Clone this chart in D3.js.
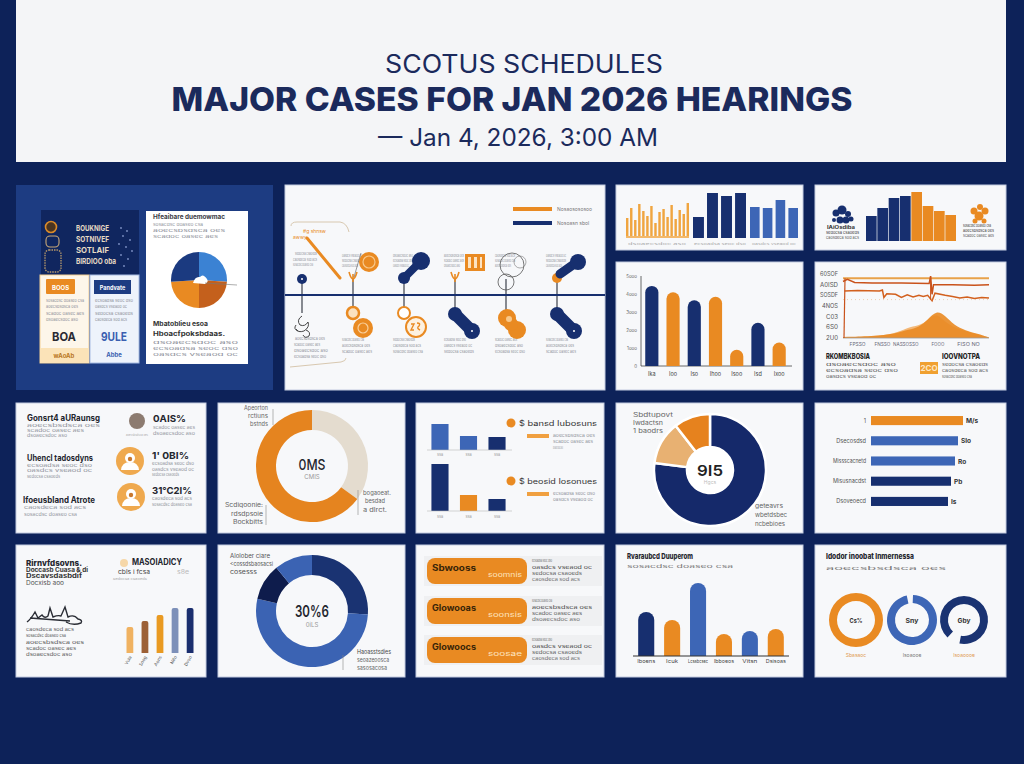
<!DOCTYPE html>
<html><head><meta charset="utf-8">
<script src="https://cdn.jsdelivr.net/npm/d3@7/dist/d3.min.js"></script>
<style>
html,body{margin:0;padding:0;background:#0d2259;}
svg{display:block;font-family:Inter,"Open Sans","DejaVu Sans",sans-serif;}
</style></head><body>
<svg id="chart" width="1024" height="764"></svg>
<script>
// ===================== DATA =====================
const titleTop = "SCOTUS SCHEDULES";
const titleMain = "MAJOR CASES FOR JAN 2026 HEARINGS";
const titleDate = "— Jan 4, 2026, 3:00 AM";
const filler = ["sosacdsc doaseo csa","aoecsbsdsca oes","scadoc oasec aes","dsoaecsdoc aso","ecsoadsa seoc dso","oasdcs vseaod oc","sedocsa csaoeds","caosdeca sod acs"];

// panel A (overview cards + pie)
const aLeftLines = ["BOUKNIGE","SOTNIVEF","SOTLAIF","BIRDIOO oba"];
const aCardHeads = ["BOOS","Pandvate"];
const aCardValues = ["BOA","9ULE"];
const aCardFoot = ["wAoAb","Abbe"];
const aPieNames = ["sky","brown","orange","navy"];
const aPieValues = [26,24,24,26];

// panel B (timeline)
const tlSteps = [0,1,2,3,4,5];
const tlTopKinds = ["dot","orangeBlob","navyPair","orangeIcon","outline","mixPair"];
const tlBottomKinds = ["scribble","orangePair","orangeRing","navyPair","orangeBlob2","navyPair"];
const tlLegend = ["Nosaosososoo","Nosoasn sbol"];

// panel C (three bar groups)
const cThin = [20,30,18,34,27,22,32,15,26,29,21,33,19,28,24,35];
const cNavy = [21,45,42,45];
const cBlue = [31,30,38,30];

// panel D
const dNavy = [25,33,43,45];
const dOrange = [49,35,30,26];

// panel E (rounded bars)
const eCats = ["Ika","Ioo","Iso","Ihoo","Isoo","Isd","Ixoo"];
const eValues = [4.45,4.1,3.65,3.85,0.9,2.4,1.3];
const eSeries = ["n","o","n","o","o","n","o"];
const eTicks = ["0","1ooo","2ooo","3ooo","4ooo","5ooo"];

// panel F (area + lines)
const fYTicks = ["2U0","6S0","C03","4NOS","SOSDF","A0ISD","60SOF"];
const fXLabels = ["FPSSO","FNSSO","NASSOSSO","FOOO","FISO NO"];
const fXPos = [10,27,43,65,86];
const fArea = [[0,0.1],[20,0.15],[36,0.4],[45,0.8],[52,1.0],[58,1.7],[64,2.6],[70,2.1],[76,1.2],[84,0.7],[92,0.4],[100,0.05]];
const fArea2 = [[0,0.05],[30,0.2],[40,0.7],[48,1.1],[55,1.3],[62,2.2],[66,2.1],[74,1.0],[88,0.5],[100,0.05]];
const fLineA = [[0,5.6],[100,5.6]];
const fLineB = [[0,5.3],[3,5.5],[8,5.2],[20,5.15],[40,5.15],[59,5.1],[60,5.8],[61,4.1],[62,5.0],[75,5.0],[90,4.95],[100,5.0]];
const fLineC = [[1,4.4],[10,4.45],[25,4.4],[27,4.5],[28,3.8],[30,4.15],[36,4.1],[40,3.8],[44,4.05],[48,3.85],[52,4.0],[55,3.9],[58,4.0],[61,3.5],[63,4.2],[70,4.0],[75,3.9],[80,3.75],[85,3.85],[90,3.7],[95,3.8],[100,3.75]];

// row 2
const r2aHeads = ["Gonsrt4 aURaunsg","Uhencl tadosdyns","Ifoeusbland Atrote"];
const r2aValues = ["0AIS%","1' 0BI%","31°C2I%"];
const r2bValues = [35,65];
const r2cTop = [2.6,1.4,1.3];
const r2cTopSeries = ["b","b","n"];
const r2cBottom = [4.7,1.6,1.2];
const r2cBottomSeries = ["n","o","n"];
const r2cHeads = ["$ bansd Iubosuns","$ beosid Iosonues"];
const r2dValues = [77,12.5,10.5];
const r2eLabels = ["1","Dsecosdsd","Missscacnetd","Misusnacdst","Dsoveoecd"];
const r2eValues = [92,87,84,80,77];
const r2eSeries = ["o","b","b","n","n"];
const r2eTags = ["M/s","Slo","Ro","Pb","Is"];

// row 3
const r3aValues = [26,32,38,45,45];
const r3aLabels = ["Vuia","Soog","Aons","Nifo","Dvso"];
const r3bValues = [26,52.5,10.5,11];
const r3cHeads = ["Sbwooss","Glowooas","Glowoocs"];
const r3cTags = ["soomnis","soonsis","soosae"];
const r3dValues = [44,36,73,22,25,27];
const r3dSeries = ["n","o","b","o","b","o"];
const r3dLabels = ["Iboens","Icuk","Lcsabcsec","Ibboeos","Vitsn","Dsisoas"];
const r3eValues = [100,96,91];
const r3eCenters = ["Cs%","Sny","Gby"];
const r3eLabels = ["Sbasaoc","Isoaooe","Isoaoooe"];

// ===================== DRAW =====================
const svg = d3.select("#chart");
const COL = {bg:"#0d2259", navy:"#172f6f", orange:"#e98a22", blue:"#3d66b6", sky:"#3b82d3", brown:"#c4601c",
  lorange:"#efb36a", beige:"#e4dccf", ink:"#1b2a5c", gray:"#8d9099", dark:"#24262e"};
const SER = {n:COL.navy, o:COL.orange, b:COL.blue};
svg.append("rect").attr("width",1024).attr("height",764).attr("fill",COL.bg);

let fi = 0;
function gl(x,y,w,size,fill){
  return svg.append("text").attr("x",x).attr("y",y).attr("font-size",size||4.5).attr("fill",fill||COL.gray)
    .attr("textLength",w).attr("lengthAdjust","spacingAndGlyphs").text(filler[fi++ % filler.length]);
}
function T(x,y,s,size,fill,weight,anchor){
  return svg.append("text").attr("x",x).attr("y",y).attr("font-size",size).attr("fill",fill)
    .attr("font-weight",weight||400).attr("text-anchor",anchor||"start").text(s);
}
function box(x,y,w,h,fill,stroke,rx){
  return svg.append("rect").attr("x",x).attr("y",y).attr("width",w).attr("height",h)
    .attr("fill",fill).attr("stroke",stroke||"none").attr("rx",rx||0);
}
function panel(x,y,w,h){ return box(x,y,w,h,"#f7f8fa","#c3cbe0"); }
function circ(x,y,r,fill,stroke,sw){
  return svg.append("circle").attr("cx",x).attr("cy",y).attr("r",r).attr("fill",fill)
    .attr("stroke",stroke||"none").attr("stroke-width",sw||1);
}
function roundTop(x,y,w,h,r){
  r = Math.min(r,w/2,h);
  return `M${x},${y+h}V${y+r}A${r},${r} 0 0 1 ${x+r},${y}H${x+w-r}A${r},${r} 0 0 1 ${x+w},${y+r}V${y+h}Z`;
}
function fitText(sel,w){ return sel.attr("textLength",w).attr("lengthAdjust","spacingAndGlyphs"); }

// ---------- header ----------
box(16,0,990,162,"#f4f5f7");
fitText(T(524,73,titleTop,25,COL.ink,400,"middle"),278);
fitText(T(512,111,titleMain,33,COL.ink,800,"middle"),681);
fitText(T(518,146,titleDate,24,COL.ink,400,"middle"),280);

// ---------- panel A ----------
box(16,185,257,205,"#1d3c82");
box(41,210,98,65,"#10265f");
circ(51,227,5.5,"#4a3420","#d98a2a",1.6);
box(46,236,13,11,"none","#c9a877",4).attr("stroke-width",1.1);
box(45,250,16,22,"none","#b99b6c",4).attr("stroke-width",1.3).attr("stroke-dasharray","1.5 1");
aLeftLines.forEach((s,i)=>fitText(T(76,231+i*11,s,7.5,"#e6dac4",700), s.length>9?40:33));
// dotted decorations (drawn as small dots, not text)
[[121,228],[127,231],[123,236],[130,240],[119,244],[126,247],[132,251],[121,255],[128,259],[124,266]].forEach(p=>circ(p[0],p[1],0.9,"#7f93c6"));
// orange card
box(40,275,49,88,"#fdf6ea","#f3cf94");
box(46,279,29,15,COL.orange,null,1);
T(60.5,289.5,aCardHeads[0],6,"#fff",700,"middle");
[302,308,315,321].forEach((y,i)=>gl(46,y,i%2?32:38,3.8));
fitText(T(52,341,aCardValues[0],12,"#2a2a33",700),24);
box(40,348,49,15,"#fbe3b8");
T(64,358,aCardFoot[0],6,"#b8761c",700,"middle");
// blue card
box(90,275,49,88,"#eef3fb","#a9bde3");
box(94,280,37,14,"#1d3c82");
T(112.5,289.5,aCardHeads[1],5.5,"#fff",700,"middle");
[302,308,315,321].forEach((y,i)=>gl(95,y,i%2?32:38,3.8));
fitText(T(101,341,aCardValues[1],12,"#3a5fb0",700),26);
T(114,357,aCardFoot[1],6,"#3a5fb0",700,"middle");
// white card with pie
box(146,211,102,153,"#ffffff");
fitText(T(153,219,"Hfeaibare duemowmac",6,"#3a3a44",700),72);
gl(153,226,50,4); gl(153,232,72,4); gl(153,238,65,4);
{
  const pie = d3.pie().sort(null)(aPieValues);
  const arc = d3.arc().innerRadius(0).outerRadius(28);
  const pc = {sky:COL.sky, brown:COL.brown, orange:COL.orange, navy:"#1b3a80"};
  const g = svg.append("g").attr("transform","translate(199,280)");
  g.selectAll("path").data(pie).join("path").attr("d",arc).attr("fill",(d,i)=>pc[aPieNames[i]]);
  g.append("path").attr("d","M-6,3 Q-4,-4 1,-3 Q4,-7 8,-1 Q10,2 6,4 Z").attr("fill","#fff");
  g.append("line").attr("x1",6).attr("y1",3).attr("x2",38).attr("y2",5).attr("stroke","#777").attr("stroke-width",0.6);
}
fitText(T(153,326,"Mbatoblieu esoa",6.5,"#333",700),55);
fitText(T(153,336,"Hboacfpoksbdaas.",6.5,"#333",700),72);
gl(153,344,85,4); gl(153,350,85,4); gl(153,356,85,4);

// ---------- panel B (timeline) ----------
panel(285,185,320,205);
box(513,207,39,4,COL.orange); T(557,211,tlLegend[0],5,"#777");
box(513,221,39,4,COL.navy); T(557,225,tlLegend[1],5,"#777");
svg.append("path").attr("d","M291,226 Q291,222 297,222 L340,222 Q347,223 349,232").attr("fill","none").attr("stroke","#d8c8b0");
svg.append("path").attr("d","M290,367 L341,362 Q346,361 346,358").attr("fill","none").attr("stroke","#d8c8b0");
{
  const tx = d3.scalePoint().domain(tlSteps).range([302,557]);
  tlSteps.forEach(s=>{
    const x = tx(s);
    svg.append("line").attr("x1",x).attr("x2",x).attr("y1",279).attr("y2",313).attr("stroke","#2b2f3a").attr("stroke-width",1.1);
  });
  svg.append("line").attr("x1",285).attr("x2",605).attr("y1",295).attr("y2",295).attr("stroke",COL.navy).attr("stroke-width",2);
  T(303,233,"#g shnsw",5,COL.orange); T(293,239,"awwy",5,COL.orange);
  gl(295,255,22,4); gl(293,261,24,4); gl(293,266,20,4);
  svg.append("line").attr("x1",307).attr("y1",238).attr("x2",340).attr("y2",278).attr("stroke",COL.orange).attr("stroke-width",3).attr("stroke-linecap","round");
  gl(295,340,30,4); gl(294,346,26,4); gl(294,352,34,4); gl(294,358,32,4);
  tlSteps.forEach(s=>{
    const x = tx(s);
    if (s>0){ gl(x-11,257,20,4); gl(x-11,262,20,4); gl(x-11,267,16,4);
      gl(x-11,341,22,4); gl(x-11,347,28,4); gl(x-11,353,30,4); }
    const top = tlTopKinds[s], bot = tlBottomKinds[s];
    if (top==="dot"){ circ(x,279,5,COL.navy); circ(x,279,1,"#fff"); }
    if (top==="orangeBlob"||top==="orangeIcon"){
      svg.append("path").attr("d",`M${x-4},272 Q${x},286 ${x+4},272 M${x},274 V282`).attr("fill","none").attr("stroke",COL.orange).attr("stroke-width",1.6);
    }
    if (top==="orangeBlob"){ circ(x+16,262,10,COL.orange); circ(x+16,262,6,"none","#f8c88a",1.2); svg.append("line").attr("x1",x+1).attr("y1",277).attr("x2",x+8).attr("y2",253).attr("stroke","#555").attr("stroke-width",0.6); }
    if (top==="orangeIcon"){ box(x+10,254,20,17,COL.orange); box(x+13,257,3,11,"#fce3c2"); box(x+19,257,3,11,"#fce3c2"); box(x+25,257,2,11,"#fce3c2"); }
    if (top==="navyPair"){ svg.append("line").attr("x1",x).attr("y1",278).attr("x2",x+17).attr("y2",261).attr("stroke",COL.navy).attr("stroke-width",8).attr("stroke-linecap","round"); circ(x,278,6,COL.navy); circ(x+17,261,9,COL.navy); }
    if (top==="outline"){ circ(x+6,265,12,"none","#555",0.8); circ(x,282,8,"none","#555",0.8); circ(x+14,262,6,"none","#777",0.6); }
    if (top==="mixPair"){ circ(x,278,5,COL.orange); svg.append("line").attr("x1",x+3).attr("y1",274).attr("x2",x+20).attr("y2",262).attr("stroke",COL.navy).attr("stroke-width",9).attr("stroke-linecap","round"); circ(x+21,262,8,COL.navy); }
    if (bot==="scribble"){ svg.append("path").attr("d",`M${x},316 q-6,4 -2,9 q5,2 8,-3 q2,5 -4,9 q-6,2 -8,-2 M${x-6},325 q-3,4 2,6 M${x+4},330 q5,2 3,6 q-4,3 -6,-1`).attr("fill","none").attr("stroke","#333").attr("stroke-width",0.9); }
    if (bot==="orangePair"){ circ(x,313,6,"#fbe2c0",COL.orange,2.5); circ(x+10,328,10,COL.orange); circ(x+10,328,5,"none","#f9cf9a",1.2); }
    if (bot==="orangeRing"){ circ(x,313,6,"#fff",COL.orange,2); circ(x+12,327,10,"#fdf1e0",COL.orange,2);
      svg.append("path").attr("d",`M${x+7},324 l3,0 l-3,6 l3,0 M${x+13},323 q4,0 2,3 q-3,2 1,4`).attr("fill","none").attr("stroke",COL.orange).attr("stroke-width",1.4); }
    if (bot==="orangeBlob2"){ circ(x+1,318,9,COL.orange); circ(x+11,330,9,COL.orange); circ(x+5,324,7,COL.orange); circ(x+3,319,3,"#f8c88a"); }
    if (bot==="navyPair"){ svg.append("line").attr("x1",x).attr("y1",314).attr("x2",x+17).attr("y2",331).attr("stroke",COL.navy).attr("stroke-width",12).attr("stroke-linecap","round"); circ(x,314,7,COL.navy); circ(x+17,331,8,COL.navy); circ(x+17,331,1,"#fff"); }
  });
}

// ---------- panel C ----------
panel(616,185,187,65);
{
  const y = d3.scaleLinear().domain([0,50]).range([238,188]);
  const x1 = d3.scaleBand().domain(cThin.map((d,i)=>i)).range([626,689]).paddingInner(0.4);
  svg.append("g").selectAll("rect").data(cThin).join("rect").attr("x",(d,i)=>x1(i)).attr("width",x1.bandwidth())
    .attr("y",d=>y(d)).attr("height",d=>y(0)-y(d)).attr("fill","#f0a540");
  box(626,236,63,2,"#f3b86a");
  const x2 = d3.scaleBand().domain(cNavy.map((d,i)=>i)).range([693,746]).paddingInner(0.22);
  svg.append("g").selectAll("rect").data(cNavy).join("rect").attr("x",(d,i)=>x2(i)).attr("width",x2.bandwidth())
    .attr("y",d=>y(d)).attr("height",d=>y(0)-y(d)).attr("fill",COL.navy);
  const x3 = d3.scaleBand().domain(cBlue.map((d,i)=>i)).range([750,798]).paddingInner(0.25);
  svg.append("g").selectAll("rect").data(cBlue).join("rect").attr("x",(d,i)=>x3(i)).attr("width",x3.bandwidth())
    .attr("y",d=>y(d)).attr("height",d=>y(0)-y(d)).attr("fill",COL.blue);
  gl(628,245,58,3.5,"#aaa"); gl(694,245,52,3.5,"#aaa"); gl(752,245,44,3.5,"#aaa");
}

// ---------- panel D ----------
panel(815,185,191,65);
[[836,213,3.5],[842,210,4.5],[848,214,3],[840,220,3.5],[846,220,3.5],[851,219,2.5],[834,220,2]].forEach(c=>circ(c[0],c[1],c[2],COL.navy));
fitText(T(827,229,"lAiOsdiba",4.5,"#333",700),28);
gl(826,234,33,4,"#333"); gl(826,239,33,4,"#555");
{
  const vals = dNavy.concat(dOrange);
  const x = d3.scaleBand().domain(vals.map((d,i)=>i)).range([866,956]).paddingInner(0.06);
  const y = d3.scaleLinear().domain([0,50]).range([241,191]);
  svg.append("g").selectAll("rect").data(vals).join("rect").attr("x",(d,i)=>x(i)).attr("width",x.bandwidth())
    .attr("y",d=>y(d)).attr("height",d=>y(0)-y(d)).attr("fill",(d,i)=>i<dNavy.length?COL.navy:COL.orange);
}
[[974,211,3.5],[980,207,3],[985,211,3.5],[979,216,4.5],[975,221,2.5],[984,221,2.5]].forEach(c=>circ(c[0],c[1],c[2],COL.orange));
gl(963,227,28,3.8,"#333"); gl(963,232,31,4,"#333"); gl(963,237,31,4,"#555");

// ---------- panel E ----------
panel(616,262,187,128);
{
  const x = d3.scaleBand().domain(eCats).range([641,790]).paddingInner(0.38).paddingOuter(0.2);
  const y = d3.scaleLinear().domain([0,5]).range([366,276]);
  svg.append("line").attr("x1",641).attr("x2",641).attr("y1",276).attr("y2",366).attr("stroke","#444").attr("stroke-width",0.8);
  svg.append("line").attr("x1",641).attr("x2",792).attr("y1",366).attr("y2",366).attr("stroke","#444").attr("stroke-width",0.8);
  eTicks.forEach((t,i)=>T(637,y(i)+1.5,t,4.5,"#666",400,"end"));
  svg.append("g").selectAll("path").data(eValues).join("path")
    .attr("d",(d,i)=>roundTop(x(eCats[i]),y(d),x.bandwidth(),y(0)-y(d),x.bandwidth()/2))
    .attr("fill",(d,i)=>SER[eSeries[i]]);
  eCats.forEach(c=>T(x(c)+x.bandwidth()/2,376,c,5.5,"#444",400,"middle"));
}

// ---------- panel F ----------
panel(815,262,191,128);
{
  const x = d3.scaleLinear().domain([0,100]).range([843,989]);
  const y = d3.scaleLinear().domain([0,6]).range([338,274]);
  fYTicks.forEach((t,i)=>fitText(T(838,y(i)+2,t,6,"#555",400,"end"),Math.min(18,t.length*4)));
  const area = d3.area().x(d=>x(d[0])).y0(y(0)).y1(d=>y(d[1])).curve(d3.curveBasis);
  svg.append("path").attr("d",area(fArea2)).attr("fill","#f3b878");
  svg.append("path").attr("d",area(fArea)).attr("fill",COL.orange).attr("opacity",0.9);
  svg.append("line").attr("x1",843).attr("x2",989).attr("y1",338).attr("y2",338).attr("stroke","#999").attr("stroke-width",0.8);
  const line = d3.line().x(d=>x(d[0])).y(d=>y(d[1]));
  svg.append("path").attr("d",line(fLineA)).attr("fill","none").attr("stroke","#e8a24a").attr("stroke-width",2);
  svg.append("path").attr("d",line(fLineB)).attr("fill","none").attr("stroke","#c9521b").attr("stroke-width",1.5);
  svg.append("path").attr("d",line(fLineC)).attr("fill","none").attr("stroke","#d2601e").attr("stroke-width",1.5);
  svg.append("line").attr("x1",x(0)+1).attr("x2",x(0)+2).attr("y1",y(0)).attr("y2",y(5.6)).attr("stroke","#c9521b").attr("stroke-width",1.2);
  svg.append("line").attr("x1",x(60)).attr("x2",x(60)).attr("y1",y(5.8)).attr("y2",y(3.6)).attr("stroke","#c9521b").attr("stroke-width",1);
  svg.append("line").attr("x1",843).attr("x2",989).attr("y1",y(3.6)).attr("y2",y(3.6)).attr("stroke","#e8b080").attr("stroke-width",0.6).attr("stroke-dasharray","1 3");
  fXLabels.forEach((t,i)=>fitText(T(x(fXPos[i]),346,t,5,"#667",400,"middle"),t.length*3.2));
}
fitText(T(826,359,"RKOMBKBOSIA",7,"#222",800),44);
gl(826,366,70,4,"#555"); gl(826,372,72,4,"#555"); gl(826,378,50,4,"#555");
box(920,362,18,12,"#f0a030");
T(929,371,"2CO",8,"#fde7c4",700,"middle");
fitText(T(942,359,"IOOVNOTPA",7,"#222",800),38);
gl(942,366,46,4,"#555"); gl(942,372,46,4,"#555"); gl(942,378,30,4,"#555");

// ---------- row 2 ----------
panel(16,403,190,130);
{
  const hy = [421,461,503], hw = [73,66,72], hx = [27,27,23];
  r2aHeads.forEach((h,i)=>fitText(T(hx[i],hy[i],h,8.5,COL.dark,700),hw[i]));
  gl(27,427,73); gl(27,432,57); gl(27,437,40);
  gl(27,467,65); gl(27,472,65); gl(27,478,33);
  gl(24,509,62); gl(24,516,53);
  circ(137,421,8,"#8c7b70");
  gl(126,436,22,3.5,"#aaa");
  [[130,461],[131,497]].forEach(c=>{
    circ(c[0],c[1],14,"#efa94e");
    circ(c[0],c[1]-3,5,"#fff");
    svg.append("path").attr("d",`M${c[0]-9},${c[1]+9} Q${c[0]-8},${c[1]+1} ${c[0]},${c[1]+1} Q${c[0]+8},${c[1]+1} ${c[0]+9},${c[1]+9} Z`).attr("fill","#fff");
    circ(c[0],c[1]-2,2.2,"#c9782e");
  });
  const vy = [422,459,494], vx=[153,152,152], vw=[33,37,40];
  r2aValues.forEach((v,i)=>fitText(T(vx[i],vy[i],v,9.5,COL.dark,700),vw[i]));
  gl(153,429,42); gl(153,435,42);
  gl(152,465,42); gl(152,471,42); gl(152,476,27);
  gl(152,500,40); gl(152,506,40);
}
panel(218,403,187,130);
{
  const pie = d3.pie().sort(null)(r2bValues);
  const arc = d3.arc().innerRadius(36).outerRadius(56);
  const g = svg.append("g").attr("transform","translate(312,466)");
  g.selectAll("path").data(pie).join("path").attr("d",arc).attr("fill",(d,i)=>i===0?COL.beige:"#e5841f");
  fitText(T(312,470,"0MS",15,COL.dark,500,"middle"),27);
  T(312,479,"CMIS",6,"#999",400,"middle");
  fitText(T(268,410,"Apeorton",5.5,"#666",400,"end"),24); fitText(T(268,418,"rctiuns",5.5,"#666",400,"end"),20); fitText(T(268,426,"bstnds",5.5,"#666",400,"end"),18);
  svg.append("line").attr("x1",273).attr("x2",273).attr("y1",409).attr("y2",425).attr("stroke","#888").attr("stroke-width",0.6);
  fitText(T(263,507,"Scdiqoonie:",5.5,"#666",400,"end"),38); fitText(T(263,516,"rdsdpsoie",5.5,"#666",400,"end"),32); fitText(T(263,524,"Bockbitts",5.5,"#666",400,"end"),30);
  svg.append("line").attr("x1",266).attr("x2",266).attr("y1",505).attr("y2",525).attr("stroke","#888").attr("stroke-width",0.6);
  fitText(T(363,495,"bogaoeat.",5.5,"#666"),28); fitText(T(365,503,"besdad",5.5,"#666"),20); fitText(T(363,512,"a dlrct.",5.5,"#666"),24);
  svg.append("line").attr("x1",358).attr("x2",358).attr("y1",490).attr("y2",515).attr("stroke","#888").attr("stroke-width",0.6);
}
panel(416,403,188,130);
{
  const x = d3.scaleBand().domain([0,1,2]).range([430,507]).paddingInner(0.4).paddingOuter(0.05);
  const yT = d3.scaleLinear().domain([0,5]).range([450,400]);
  const yB = d3.scaleLinear().domain([0,5]).range([511,461]);
  svg.append("g").selectAll("rect").data(r2cTop).join("rect").attr("x",(d,i)=>x(i)).attr("width",x.bandwidth())
    .attr("y",d=>yT(d)).attr("height",d=>yT(0)-yT(d)).attr("fill",(d,i)=>SER[r2cTopSeries[i]]);
  svg.append("g").selectAll("rect").data(r2cBottom).join("rect").attr("x",(d,i)=>x(i)).attr("width",x.bandwidth())
    .attr("y",d=>yB(d)).attr("height",d=>yB(0)-yB(d)).attr("fill",(d,i)=>SER[r2cBottomSeries[i]]);
  [450,511].forEach(b=>svg.append("line").attr("x1",427).attr("x2",512).attr("y1",b).attr("y2",b).attr("stroke","#bbb").attr("stroke-width",0.6));
  [0,1,2].forEach(i=>{ T(x(i)+x.bandwidth()/2,456,"ssa",3.8,"#999",400,"middle"); T(x(i)+x.bandwidth()/2,518,"ssa",3.8,"#999",400,"middle"); });
  [[423,434],[481,492]].forEach((p,k)=>{
    circ(511,p[0],4.5,COL.orange);
    fitText(T(519,p[0]+3,r2cHeads[k],7,"#333"),78);
    box(527,p[1],22,4,"#f0a040");
    gl(553,p[1]+3,42,4); gl(553,p[1]+9,40,4); if(k===0) gl(553,p[1]+15,10,4);
  });
}
panel(616,403,187,130);
{
  const pie = d3.pie().sort(null)(r2dValues);
  const arc = d3.arc().innerRadius(23).outerRadius(56);
  const cols = ["#15296a","#e8b172","#e6821e"];
  const g = svg.append("g").attr("transform","translate(710,470)");
  g.selectAll("path").data(pie).join("path").attr("d",arc).attr("fill",(d,i)=>cols[i]).attr("stroke","#fff").attr("stroke-width",2.5);
  g.append("circle").attr("r",23).attr("fill","#fff");
  fitText(T(710,476,"9I5",15,"#222",600,"middle"),26);
  T(710,484,"Hgcs",5,"#bbb",400,"middle");
  fitText(T(633,417,"Sbdtupovt",5.5,"#666"),40); fitText(T(633,425,"Iwdactsn",5.5,"#666"),30); fitText(T(633,433,"1 baodrs",5.5,"#666"),30);
  fitText(T(755,508,"geteavrs",5.5,"#666"),28); fitText(T(755,517,"wbetdsbec",5.5,"#666"),32); fitText(T(755,526,"ncbebioes",5.5,"#666"),30);
}
panel(815,403,191,130);
{
  const x = d3.scaleLinear().domain([0,100]).range([871,971]);
  const y = d3.scaleBand().domain(r2eLabels.map((d,i)=>i)).range([414,508]).paddingInner(0.55).paddingOuter(0.1);
  svg.append("g").selectAll("rect").data(r2eValues).join("rect").attr("x",x(0)).attr("y",(d,i)=>y(i))
    .attr("width",d=>x(d)-x(0)).attr("height",y.bandwidth()).attr("fill",(d,i)=>SER[r2eSeries[i]]);
  r2eLabels.forEach((l,i)=>{ const t=T(866,y(i)+y.bandwidth()/2+2,l,5.5,"#555",400,"end"); if(l.length>2) fitText(t,Math.min(33,l.length*3.3)); });
  r2eTags.forEach((l,i)=>T(x(r2eValues[i])+3,y(i)+y.bandwidth()/2+2.5,l,6.5,"#333",700));
}

// ---------- row 3 ----------
panel(16,545,190,132);
{
  fitText(T(26,566,"Rirnvfdsovns.",8,COL.dark,800),56);
  fitText(T(26,572,"Doccasb Cuasa & di",5.5,"#333",700),62);
  fitText(T(26,578,"Dscavsdasbdif",5.5,"#333",700),56);
  fitText(T(26,585,"Docxisb aoo",5.5,"#555"),38);
  fitText(T(132,565,"MASOIADICY",8.5,COL.dark,700),50);
  circ(124,563,4,"#f6d7a8");
  fitText(T(118,574,"cbls  i  fcsa",5.5,"#444"),32);
  fitText(T(177,574,"s8e",5.5,"#bbb"),12);
  gl(113,580,34,3.5,"#aaa");
  svg.append("path").attr("d","M27,622 q4,-3 8,-10 l3,6 l4,-3 q3,4 6,1 l2,-8 l3,9 q5,-2 8,-1 l4,-9 l3,10 q6,-3 10,2 q5,1 3,4 q-8,3 -15,-1 M30,618 l40,3")
    .attr("fill","none").attr("stroke","#2a2d35").attr("stroke-width",1.4);
  gl(26,631,48,4.2,"#555"); gl(26,637,40,4.2,"#555"); gl(26,644,58,4.2,"#555"); gl(26,650,50,4.2,"#555"); gl(26,656,46,4.2,"#555");
  const x = d3.scaleBand().domain(r3aLabels).range([125,195]).paddingInner(0.55).paddingOuter(0.1);
  const y = d3.scaleLinear().domain([0,50]).range([653,603]);
  const cols = ["#f0b261","#9c6036","#e99a22","#7d90b9","#1a2e6e"];
  svg.append("g").selectAll("path").data(r3aValues).join("path")
    .attr("d",(d,i)=>roundTop(x(r3aLabels[i]),y(d),x.bandwidth(),y(0)-y(d),2))
    .attr("fill",(d,i)=>cols[i]);
  r3aLabels.forEach(l=>T(x(l)+x.bandwidth()/2+2,657,l,4.5,"#555",400,"end").attr("transform",`rotate(-60 ${x(l)+x.bandwidth()/2+2} 657)`));
}
panel(218,545,187,132);
{
  const pie = d3.pie().sort(null)(r3bValues);
  const arc = d3.arc().innerRadius(36).outerRadius(56);
  const cols = ["#1a3372","#3b63b3","#0e1c4c","#3b63b3"];
  const g = svg.append("g").attr("transform","translate(312,611)");
  g.selectAll("path").data(pie).join("path").attr("d",arc).attr("fill",(d,i)=>cols[i]);
  fitText(T(312,617,"30%6",16,COL.dark,600,"middle"),34);
  T(312,627,"0iLS",6,"#999",400,"middle");
  fitText(T(230,558,"Alolober ciare",5.5,"#555"),40); fitText(T(230,566,"<cossdsbaosacsi",5.5,"#555"),43); fitText(T(230,574,"cosesss",5.5,"#555"),27);
  fitText(T(357,654,"Haoasstsdies",6,"#444"),34); fitText(T(357,662,"seoazeoosca",5.5,"#666"),32); fitText(T(357,670,"sasosacosa",5.5,"#666"),30);
  svg.append("line").attr("x1",343).attr("x2",343).attr("y1",655).attr("y2",670).attr("stroke","#888").attr("stroke-width",0.6);
}
panel(416,545,188,132);
{
  const py = [558,598,637];
  r3cHeads.forEach((h,i)=>{
    box(424,py[i]-2,178,30,"#eff0f2");
    box(427,py[i],100,26,COL.orange,null,8);
    fitText(T(432,py[i]+13,h,8.5,"#3a2508",700),44);
    fitText(T(488,py[i]+19,r3cTags[i],7,"#fde3bf"),34);
    gl(532,py[i]+4,20,4,"#666"); gl(532,py[i]+11,60,4.5,"#444"); gl(532,py[i]+17,50,4.5,"#555"); gl(532,py[i]+23,48,4.5,"#666");
  });
}
panel(616,545,187,132);
{
  fitText(T(627,559,"Rvaraubcd Duuperom",8,COL.dark,800),66);
  gl(627,568,106,4.5,"#777");
  const x = d3.scaleBand().domain(r3dLabels).range([633,789]).paddingInner(0.38).paddingOuter(0.2);
  const y = d3.scaleLinear().domain([0,80]).range([656,576]);
  svg.append("g").selectAll("path").data(r3dValues).join("path")
    .attr("d",(d,i)=>roundTop(x(r3dLabels[i]),y(d),x.bandwidth(),y(0)-y(d),x.bandwidth()/2))
    .attr("fill",(d,i)=>SER[r3dSeries[i]]);
  svg.append("line").attr("x1",633).attr("x2",789).attr("y1",656).attr("y2",656).attr("stroke","#333").attr("stroke-width",1);
  r3dLabels.forEach(l=>fitText(T(x(l)+x.bandwidth()/2,663,l,5,"#444",400,"middle"),Math.min(20,l.length*3)));
}
panel(815,545,191,132);
{
  fitText(T(826,559,"Idodor inoobat Inmernessa",7.5,COL.dark,800),88);
  gl(826,570,120,4.5,"#777");
  const cxs = [856,912,964], rs = [27,25,24];
  const starts = [0,0.04,3.9];
  const cols = [COL.orange,COL.blue,"#1a3372"];
  r3eValues.forEach((v,i)=>{
    const arc = d3.arc().innerRadius(rs[i]-8).outerRadius(rs[i]).startAngle(starts[i]).endAngle(starts[i]+v/100*2*Math.PI);
    svg.append("path").attr("transform",`translate(${cxs[i]},620)`).attr("d",arc()).attr("fill",cols[i]);
    fitText(T(cxs[i],623,r3eCenters[i],6.5,"#333",700,"middle"),13);
    T(cxs[i],657,r3eLabels[i],5,i===1?"#777":"#e09a50",400,"middle");
  });
}
</script></body></html>
